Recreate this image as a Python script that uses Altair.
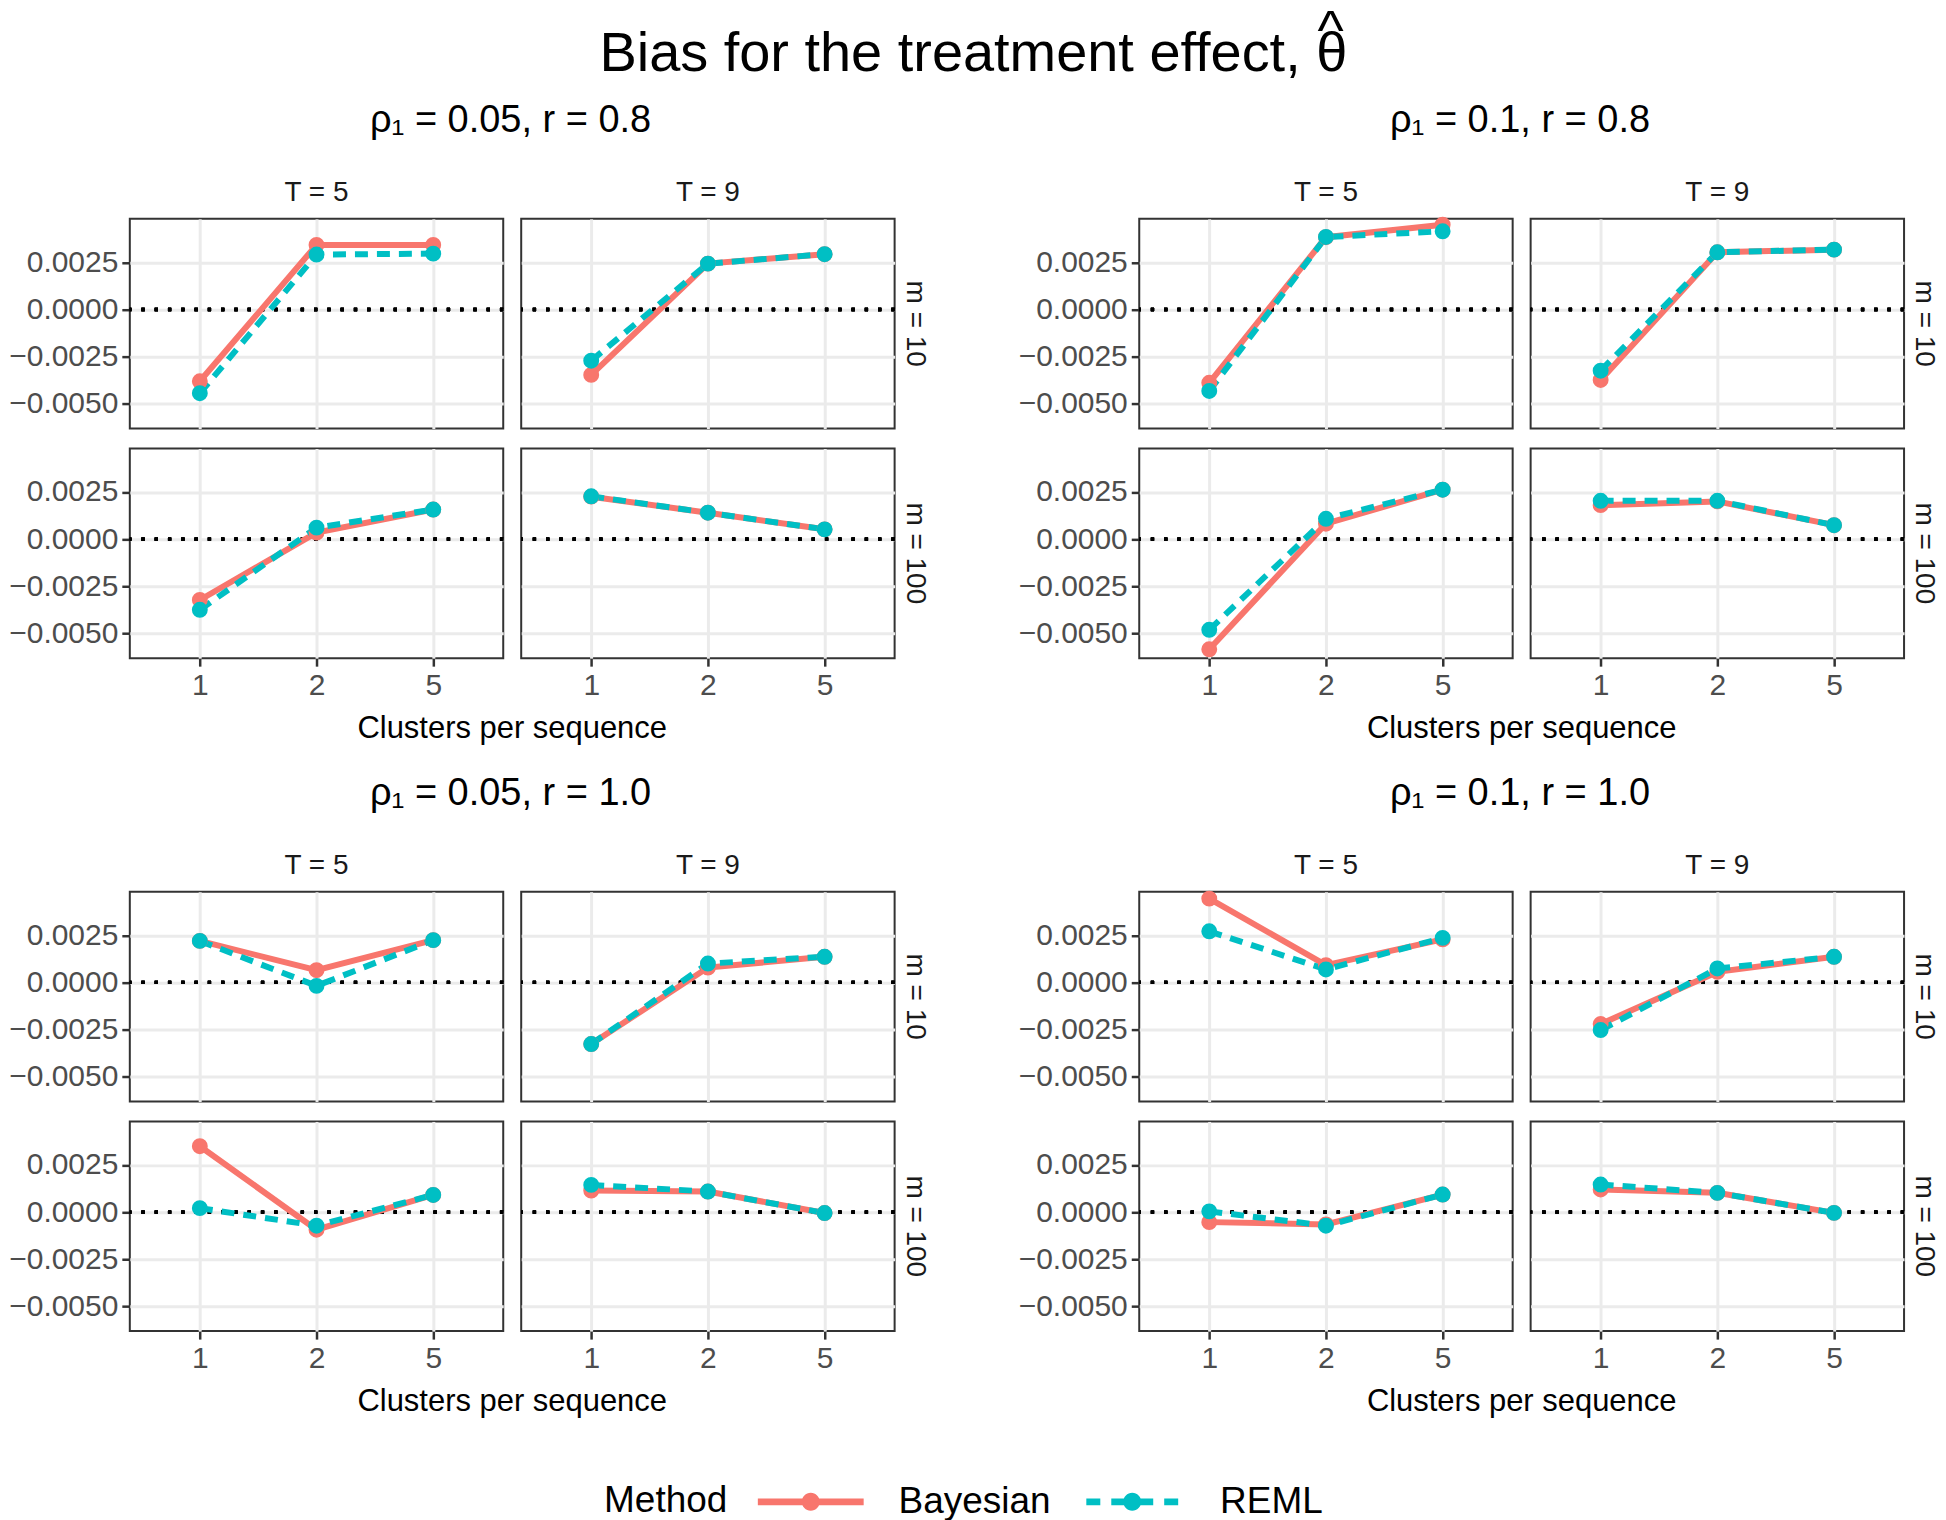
import altair as alt
import pandas as pd

FONT = "Liberation Sans"

group_titles = ["ρ₁ = 0.05, r = 0.8", "ρ₁ = 0.1, r = 0.8",
                "ρ₁ = 0.05, r = 1.0", "ρ₁ = 0.1, r = 1.0"]
panels = [("m = 10", "T = 5"), ("m = 10", "T = 9"),
          ("m = 100", "T = 5"), ("m = 100", "T = 9")]
clusters = [1, 2, 5]
methods = ["Bayesian", "REML"]
method_colors = ["#F8766D", "#00BFC4"]

# values per panel (m10 T5, m10 T9, m100 T5, m100 T9) at clusters 1, 2, 5
bayes_a = [[-0.00380, 0.00342, 0.00342], [-0.00346, 0.00243, 0.00293],
           [-0.00322, 0.00035, 0.00157], [0.00225, 0.00140, 0.00052]]
reml_a = [[-0.00443, 0.00291, 0.00296], [-0.00271, 0.00243, 0.00293],
          [-0.00374, 0.00061, 0.00157], [0.00227, 0.00140, 0.00052]]
bayes_b = [[-0.00388, 0.00383, 0.00449], [-0.00373, 0.00303, 0.00317],
           [-0.00583, 0.00082, 0.00262], [0.00180, 0.00200, 0.00074]]
reml_b = [[-0.00431, 0.00384, 0.00414], [-0.00324, 0.00303, 0.00317],
          [-0.00480, 0.00108, 0.00262], [0.00203, 0.00203, 0.00074]]
bayes_c = [[0.00220, 0.00065, 0.00224], [-0.00326, 0.00079, 0.00136],
           [0.00349, -0.00093, 0.00091], [0.00114, 0.00109, -0.00005]]
reml_c = [[0.00220, -0.00018, 0.00224], [-0.00326, 0.00100, 0.00136],
          [0.00021, -0.00072, 0.00091], [0.00144, 0.00109, -0.00005]]
bayes_d = [[0.00444, 0.00092, 0.00228], [-0.00220, 0.00056, 0.00136],
           [-0.00053, -0.00065, 0.00093], [0.00120, 0.00102, -0.00004]]
reml_d = [[0.00271, 0.00069, 0.00236], [-0.00252, 0.00074, 0.00136],
          [0.00004, -0.00072, 0.00093], [0.00146, 0.00102, -0.00004]]

bayes_all = [bayes_a, bayes_b, bayes_c, bayes_d]
reml_all = [reml_a, reml_b, reml_c, reml_d]

y_domain = [-0.0063, 0.0048]
y_grid_values = [-0.005, -0.00375, -0.0025, -0.00125, 0.0, 0.00125, 0.0025, 0.00375]

rows = []
for gi, g in enumerate(group_titles):
    for pi, (m, t) in enumerate(panels):
        for ci, c in enumerate(clusters):
            rows.append(dict(group=g, m=m, T=t, clusters=c, method="Bayesian",
                             value=bayes_all[gi][pi][ci]))
            rows.append(dict(group=g, m=m, T=t, clusters=c, method="REML",
                             value=reml_all[gi][pi][ci]))
df = pd.DataFrame(rows)

MAJOR = "abs(datum.value*400 - round(datum.value*400)) < 0.001"

x_enc = alt.X("clusters:O",
              scale=alt.Scale(type="point", padding=0.6),
              axis=alt.Axis(title=None, labelAngle=0, grid=True,
                            gridWidth=3, gridColor="#EBEBEB"))
y_enc = alt.Y("value:Q",
              scale=alt.Scale(domain=y_domain, nice=False, zero=False),
              axis=alt.Axis(title=None, values=y_grid_values, format=".4f",
                            labelExpr=f"{MAJOR} ? datum.label : ''",
                            gridColor="#EBEBEB",
                            gridWidth={"condition": {"test": MAJOR, "value": 3}, "value": 1.5},
                            tickOpacity={"condition": {"test": MAJOR, "value": 1}, "value": 0}))

# legend glyphs (unit = 20 px): line with a dot, dashed line with a dot
bayes_path = ("M-2.65,-0.165H2.65V0.165H-2.65Z "
              "M0.45,0A0.45,0.45 0 1,1 -0.45,0A0.45,0.45 0 1,1 0.45,0Z")
reml_path = ("M-2.3,-0.165H-1.6V0.165H-2.3Z "
             "M-1.05,-0.165H-0.25V0.165H-1.05Z "
             "M0.25,-0.165H1.05V0.165H0.25Z "
             "M1.6,-0.165H2.3V0.165H1.6Z "
             "M0.45,0A0.45,0.45 0 1,1 -0.45,0A0.45,0.45 0 1,1 0.45,0Z")

legend = alt.Legend(title="Method", orient="none", direction="horizontal",
                    legendX=475, legendY=1265,
                    titleOrient="left", titleFontSize=37, titleFont=FONT,
                    titleFontWeight="normal", titleColor="black", titlePadding=63,
                    labelFontSize=37, labelFont=FONT, labelColor="black",
                    labelOffset=68, columnPadding=35, labelLimit=400,
                    symbolSize=1600, symbolStrokeWidth=0, symbolOpacity=1)


def make_group(gname):
    sub = df[df["group"] == gname]
    leg = alt.Chart().mark_point(filled=True, opacity=0, size=10).encode(
        x=x_enc, y=y_enc,
        color=alt.Color("method:N", scale=alt.Scale(domain=methods, range=method_colors),
                        legend=legend),
        shape=alt.Shape("method:N", scale=alt.Scale(domain=methods,
                                                    range=[bayes_path, reml_path]),
                        legend=legend))
    zero = alt.Chart().mark_rule(color="black", strokeDash=[3.3, 10],
                                 strokeWidth=3.3).encode(y=alt.datum(0))
    line_b = alt.Chart().transform_filter(alt.datum.method == "Bayesian").mark_line(
        color=method_colors[0], strokeWidth=6).encode(x=x_enc, y=y_enc)
    line_r = alt.Chart().transform_filter(alt.datum.method == "REML").mark_line(
        color=method_colors[1], strokeWidth=6, strokeDash=[13, 9]).encode(x=x_enc, y=y_enc)
    pt_b = alt.Chart().transform_filter(alt.datum.method == "Bayesian").mark_circle(
        color=method_colors[0], size=254, opacity=1).encode(x=x_enc, y=y_enc)
    pt_r = alt.Chart().transform_filter(alt.datum.method == "REML").mark_circle(
        color=method_colors[1], size=254, opacity=1).encode(x=x_enc, y=y_enc)
    layered = alt.layer(leg, zero, line_b, line_r, pt_b, pt_r, data=sub).properties(
        width=374, height=210)
    return layered.facet(
        row=alt.Row("m:N", sort=["m = 10", "m = 100"],
                    header=alt.Header(title=None, labelOrient="right", labelAngle=90,
                                      labelFontSize=28, labelFont=FONT,
                                      labelColor="#1A1A1A", labelPadding=6)),
        column=alt.Column("T:N", sort=["T = 5", "T = 9"],
                          header=alt.Header(title="Clusters per sequence",
                                            titleOrient="bottom", labelOrient="top",
                                            titleFontSize=31, titleFont=FONT,
                                            titleFontWeight="normal", titleColor="black",
                                            titlePadding=4,
                                            labelFontSize=28, labelFont=FONT,
                                            labelColor="#1A1A1A", labelPadding=12)),
        spacing={"row": 20, "column": 18},
        bounds="flush",
    ).properties(title=alt.TitleParams(gname, fontSize=38, font=FONT,
                                       fontWeight="normal", anchor="middle",
                                       frame="bounds", dx=42, color="black", offset=39))


top = alt.hconcat(make_group(group_titles[0]), make_group(group_titles[1]), spacing=89)
bottom = alt.hconcat(make_group(group_titles[2]), make_group(group_titles[3]), spacing=89)

NBSP = "\u00a0"
# first line carries the hat that sits over the theta at the end of the second line
title_lines = ["\u200b" + NBSP * 46 + "^", "Bias for the treatment effect, θ"]

chart = alt.vconcat(top, bottom, spacing=31).properties(
    title=alt.TitleParams(title_lines, fontSize=56, font=FONT, lineHeight=22,
                          fontWeight="normal", anchor="middle", color="black", offset=19)
).configure(font=FONT, padding={"left": 0, "right": 0, "top": -5, "bottom": 0}).configure_view(
    stroke="#333333", strokeWidth=2
).configure_axis(
    domain=False, labelFont=FONT, labelFontSize=30, labelColor="#4D4D4D",
    tickColor="#333333", tickWidth=2.5, tickSize=8, labelPadding=4,
    titleFont=FONT, titleFontSize=31, titleFontWeight="normal", titleColor="black"
).configure_header(labelFont=FONT)

chart.save("out.html", embed_options={"renderer": "svg", "actions": False})
